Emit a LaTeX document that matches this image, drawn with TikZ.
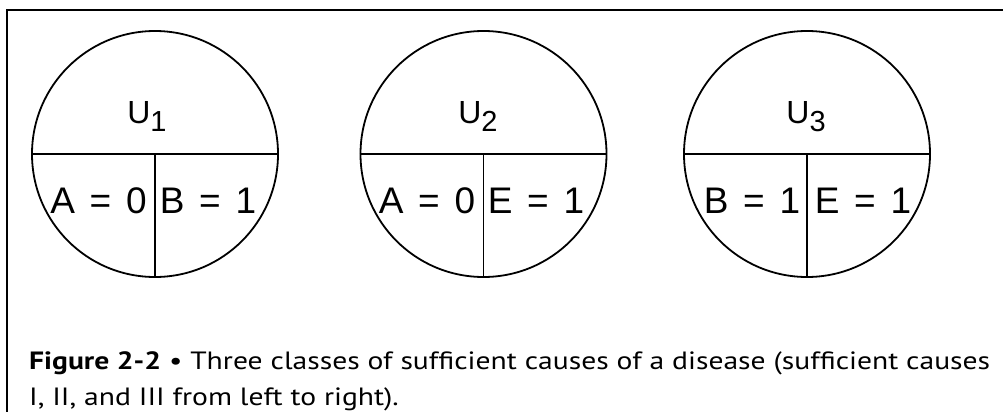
\documentclass[tikz,border=0pt]{standalone}
\usepackage{fontspec}
\usepackage{graphicx}
\setmainfont{Liberation Sans}
\newfontfamily\capfont{PT Sans}
\newsavebox\capboxA
\newsavebox\capboxB
\newlength\capw
\begin{document}
\sbox\capboxA{\capfont\fontsize{25}{28}\selectfont\textbf{Figure 2-2} • Three classes of sufficient causes of a disease (sufficient causes}%
\sbox\capboxB{\capfont\fontsize{25}{28}\selectfont I, II, and III from left to right).}%
\setlength\capw{\wd\capboxA}%
\pgfmathsetmacro\capsx{961pt/\capw}%
\begin{tikzpicture}[x=1pt,y=-1pt,
  frameline/.style={line width=2pt,black},
  ring/.style={circle,draw,line width=1.8pt,minimum size=246pt,inner sep=0pt},
  divline/.style={line width=1.6pt},
  ulabel/.style={anchor=base,inner sep=0pt,font=\fontsize{32}{36}\selectfont},
  vlabel/.style={anchor=base,inner sep=0pt,font=\fontsize{37}{40}\selectfont},
  capline/.style={anchor=base west,inner sep=0pt,text=black!88}]
\useasboundingbox (0,0) rectangle (1003,412);
\coordinate (tl) at (6.5,10.5);
\coordinate (tr) at (1003,10.5);
\coordinate (bl) at (6.5,412);
\draw[frameline] (tr) -- (tl) -- (bl);
\newcommand\eqsp{\hspace{0.4em}}
\newcommand\usub[1]{U\raisebox{-8pt}{\fontsize{29}{30}\selectfont #1}}
% circles
\foreach \n/\cx in {1/155,2/483.5,3/807}{
  \node[ring] (c\n) at (\cx,154) {};
  \draw[divline] (c\n.west) -- (c\n.east);
  \draw[divline] (c\n.center) -- (c\n.south);
}
\node[ulabel] (u1) at (147,123) {\usub{1}};
\node[ulabel] (u2) at (478,123) {\usub{2}};
\node[ulabel] (u3) at (806,123) {\usub{3}};
\node[vlabel] (a1) at (98.5,213) {A\eqsp=\eqsp0};
\node[vlabel] (b1) at (208,213) {B\eqsp=\eqsp1};
\node[vlabel] (a2) at (427,213) {A\eqsp=\eqsp0};
\node[vlabel] (e2) at (536,213) {E\eqsp=\eqsp1};
\node[vlabel] (b3) at (752,213) {B\eqsp=\eqsp1};
\node[vlabel] (e3) at (863,213) {E\eqsp=\eqsp1};
% caption
\node[capline] (cap1) at (29,369) {\scalebox{\capsx}[1]{\usebox\capboxA}};
\node[capline] (cap2) at (29,405) {\scalebox{\capsx}[1]{\usebox\capboxB}};
\end{tikzpicture}
\end{document}
